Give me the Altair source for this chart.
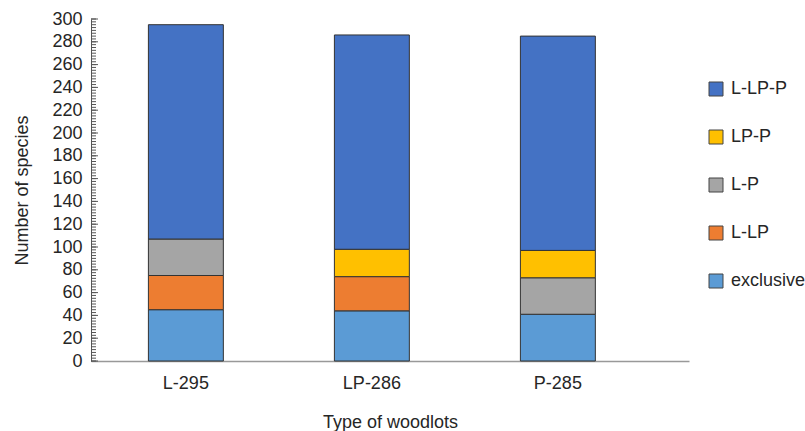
import altair as alt
import pandas as pd

# Species counts per woodlot type, split by sharing group
woodlots = ["L-295", "LP-286", "P-285"]
groups = ["L-LP-P", "LP-P", "L-P", "L-LP", "exclusive"]
colors = ["#4472C4", "#FFC000", "#A5A5A5", "#ED7D31", "#5B9BD5"]
stack_rank = {"exclusive": 0, "L-LP": 1, "L-P": 2, "LP-P": 3, "L-LP-P": 4}

exclusive = [45, 44, 41]
l_lp = [30, 30, 0]
l_p = [32, 0, 32]
lp_p = [0, 24, 24]
l_lp_p = [188, 188, 188]

series = {
    "exclusive": exclusive,
    "L-LP": l_lp,
    "L-P": l_p,
    "LP-P": lp_p,
    "L-LP-P": l_lp_p,
}

rows = []
for g, vals in series.items():
    for w, v in zip(woodlots, vals):
        if v > 0:
            rows.append({"woodlot": w, "group": g, "count": v, "rank": stack_rank[g]})
df = pd.DataFrame(rows)

# minor tick positions along the y axis
minor_ticks = [i * 2.5 for i in range(0, 121)]
major_ticks = list(range(0, 301, 20))

FONT = "Liberation Sans"
TEXT = "#262626"
W, H = 598, 342

y_scale = alt.Scale(domain=[0, 300], nice=False)

y_axis = alt.Axis(
    title="Number of species",
    values=major_ticks,
    ticks=False,
    grid=False,
    labelOverlap=False,
    domainColor="#555555",
    labelFont=FONT,
    labelFontSize=18,
    labelColor=TEXT,
    labelPadding=9,
    titleFont=FONT,
    titleFontSize=18,
    titleFontWeight="normal",
    titleColor=TEXT,
    titlePadding=20,
)

bars = alt.Chart(df).mark_bar(stroke="#333333", strokeWidth=1).encode(
    x=alt.X(
        "woodlot:N",
        sort=woodlots,
        scale=alt.Scale(paddingInner=0.597, paddingOuter=0.406, align=0.38),
        axis=alt.Axis(
            title="Type of woodlots",
            labelAngle=0,
            ticks=False,
            domainColor="#999999",
            domainWidth=1.5,
            labelFont=FONT,
            labelFontSize=18,
            labelColor=TEXT,
            labelPadding=13,
            titleFont=FONT,
            titleFontSize=18,
            titleFontWeight="normal",
            titleColor=TEXT,
            titlePadding=21,
        ),
    ),
    y=alt.Y("count:Q", stack="zero", scale=y_scale, axis=y_axis),
    color=alt.Color(
        "group:N",
        scale=alt.Scale(domain=groups, range=colors),
        legend=alt.Legend(
            title=None,
            orient="none",
            legendX=616,
            legendY=61,
            symbolType="square",
            symbolSize=196,
            symbolStrokeColor="#444444",
            symbolStrokeWidth=1,
            symbolOpacity=1,
            labelFont=FONT,
            labelFontSize=18,
            labelColor=TEXT,
            rowPadding=30,
            labelOffset=6,
        ),
    ),
    order=alt.Order("rank:Q", sort="ascending"),
)

# inward-pointing y-axis tick marks
minor = alt.Chart(pd.DataFrame({"v": minor_ticks})).mark_rule(
    color="#555555", strokeWidth=1
).encode(y=alt.Y("v:Q", scale=y_scale, axis=y_axis), x=alt.value(0), x2=alt.value(5))

major = alt.Chart(pd.DataFrame({"v": major_ticks})).mark_rule(
    color="#555555", strokeWidth=1
).encode(y=alt.Y("v:Q", scale=y_scale, axis=y_axis), x=alt.value(0), x2=alt.value(7))

chart = (
    alt.layer(bars, minor, major)
    .properties(
        width=W,
        height=H,
        padding={"left": 91, "top": 19, "right": 116, "bottom": 70},
        autosize=alt.AutoSizeParams(type="none"),
        background="white",
    )
    .configure_view(stroke=None)
    .configure_axisY(labelOverlap=False)
)

chart.save("out.html", embed_options={"renderer": "svg", "actions": False})
